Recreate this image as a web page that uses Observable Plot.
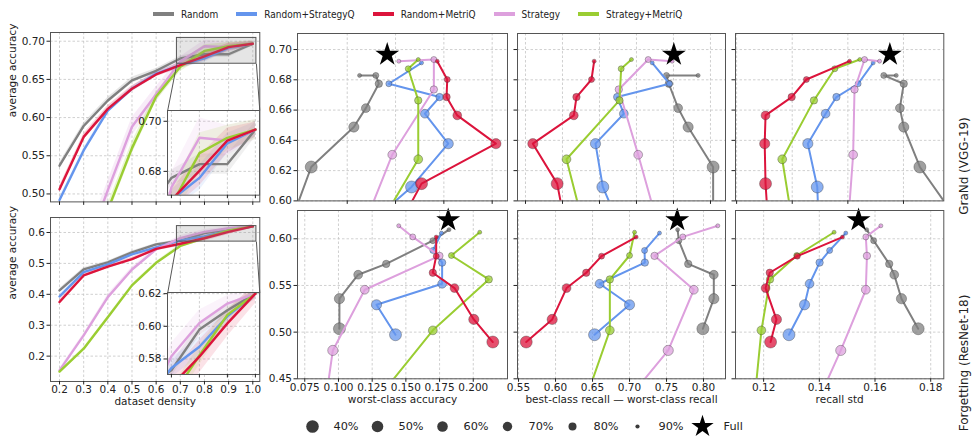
<!DOCTYPE html>
<html><head><meta charset="utf-8">
<script src="https://cdn.jsdelivr.net/npm/d3@7"></script>
<script src="https://cdn.jsdelivr.net/npm/@observablehq/plot@0.6"></script>
<style>
body{margin:0;background:#fff;}
#chart{position:relative;width:977px;height:437px;overflow:hidden;background:#fff;font-family:"DejaVu Sans",sans-serif;}
#chart svg{overflow:visible;}
#legendTop{position:absolute;left:153px;top:6px;height:16px;display:flex;align-items:center;white-space:nowrap;
  font-family:"DejaVu Sans Condensed","DejaVu Sans",sans-serif;font-size:10px;color:#222;}
#legendTop .item{display:flex;align-items:center;margin-right:18px;}
#legendTop .sw{width:21px;height:4px;margin-right:7px;}
</style></head>
<body><div id="chart"><div id="legendTop"></div></div>
<script>
// ---------------- data ----------------
const seriesNames = ["Random", "Random+StrategyQ", "Random+MetriQ", "Strategy", "Strategy+MetriQ"];
const seriesColors = ["#808080", "#6495ED", "#DC143C", "#DDA0DD", "#9ACD32"];
const drawOrder = [0, 1, 3, 4, 2];

const densities = [0.2, 0.3, 0.4, 0.5, 0.6, 0.7, 0.8, 0.9, 1.0];
const subsetDensities = [0.3, 0.4, 0.5, 0.6, 0.7, 0.8, 0.9];

// average accuracy vs dataset density — GraNd (VGG-19)
const grandAccRandom         = [0.537, 0.589, 0.6224, 0.6488, 0.6613, 0.6774, 0.6829, 0.6829, 0.6967];
const grandAccStrategyQ      = [0.492, 0.557, 0.6092, 0.6378, 0.6576, 0.6686, 0.6774, 0.6912, 0.6967];
const grandAccMetriQ         = [0.506, 0.5747, 0.6114, 0.6378, 0.6565, 0.6686, 0.6802, 0.6923, 0.6967];
const grandAccStrategy       = [0.33, 0.42, 0.505, 0.588, 0.6305, 0.6736, 0.6934, 0.6923, 0.6967];
const grandAccStrategyMetriQ = [0.32, 0.40, 0.479, 0.56, 0.6275, 0.6664, 0.6873, 0.6934, 0.6967];
const grandStdRandom         = [0.004, 0.004, 0.004, 0.004, 0.003, 0.003, 0.004, 0.004, 0.003];
const grandStdStrategyQ      = [0.003, 0.003, 0.003, 0.003, 0.003, 0.004, 0.005, 0.004, 0.003];
const grandStdMetriQ         = [0.004, 0.004, 0.004, 0.004, 0.003, 0.004, 0.006, 0.005, 0.003];
const grandStdStrategy       = [0.010, 0.012, 0.012, 0.012, 0.010, 0.006, 0.008, 0.006, 0.004];
const grandStdStrategyMetriQ = [0.008, 0.008, 0.008, 0.008, 0.006, 0.006, 0.008, 0.005, 0.004];

// average accuracy vs dataset density — Forgetting (ResNet-18)
const forgAccRandom         = [0.4126, 0.4806, 0.5036, 0.5358, 0.5615, 0.5731, 0.598, 0.6098, 0.620];
const forgAccStrategyQ      = [0.393, 0.472, 0.4972, 0.5293, 0.5518, 0.5745, 0.5875, 0.6061, 0.620];
const forgAccMetriQ         = [0.375, 0.461, 0.4894, 0.5136, 0.5472, 0.5636, 0.5814, 0.6018, 0.620];
const forgAccStrategy       = [0.154, 0.267, 0.391, 0.4804, 0.5454, 0.5817, 0.602, 0.6139, 0.620];
const forgAccStrategyMetriQ = [0.150, 0.224, 0.326, 0.429, 0.5019, 0.5565, 0.5821, 0.607, 0.620];
const forgStdRandom         = [0.006, 0.005, 0.004, 0.004, 0.004, 0.004, 0.004, 0.003, 0.003];
const forgStdStrategyQ      = [0.006, 0.005, 0.004, 0.004, 0.004, 0.006, 0.006, 0.004, 0.003];
const forgStdMetriQ         = [0.008, 0.006, 0.006, 0.006, 0.006, 0.008, 0.010, 0.008, 0.006];
const forgStdStrategy       = [0.006, 0.006, 0.008, 0.008, 0.006, 0.008, 0.008, 0.005, 0.004];
const forgStdStrategyMetriQ = [0.004, 0.004, 0.004, 0.004, 0.004, 0.006, 0.006, 0.004, 0.003];

// fairness metrics at densities 30%..90% — GraNd (VGG-19)
const grandWorstRandom         = [0.0871, 0.1255, 0.2137, 0.2385, 0.2654, 0.2592, 0.2255];
const grandWorstStrategyQ      = [0.145, 0.3331, 0.4091, 0.3607, 0.3911, 0.2861, 0.3538];
const grandWorstMetriQ         = [0.2919, 0.3538, 0.5077, 0.4277, 0.4056, 0.4070, 0.3863];
const grandWorstStrategy       = [null, null, 0.2401, 0.2932, 0.3793, 0.3793, 0.3068];
const grandWorstStrategyMetriQ = [null, null, 0.223, 0.347, 0.347, 0.3263, 0.347];

const grandGapRandom         = [0.6536, 0.6536, 0.6198, 0.6063, 0.5937, 0.5905, 0.6333];
const grandGapStrategyQ      = [0.5505, 0.5045, 0.4946, 0.5329, 0.5239, 0.5946, 0.5712];
const grandGapMetriQ         = [0.4573, 0.4428, 0.4099, 0.4653, 0.4689, 0.4892, 0.4928];
const grandGapStrategy       = [null, null, 0.5767, 0.5523, 0.5261, 0.5658, 0.5982];
const grandGapStrategyMetriQ = [null, null, 0.4908, 0.4554, 0.5270, 0.5293, 0.5432];

const grandRstdRandom         = [0.1787, 0.1659, 0.1601, 0.1587, 0.1601, 0.1529, 0.1574];
const grandRstdStrategyQ      = [0.1301, 0.1290, 0.1256, 0.1320, 0.1359, 0.1437, 0.1491];
const grandRstdMetriQ         = [0.1117, 0.1104, 0.1101, 0.1104, 0.1198, 0.1251, 0.1406];
const grandRstdStrategy       = [null, null, 0.1402, 0.1419, 0.1424, 0.1460, 0.1514];
const grandRstdStrategyMetriQ = [null, null, 0.1223, 0.1164, 0.1278, 0.1353, 0.1443];

// fairness metrics at densities 30%..90% — Forgetting (ResNet-18)
const forgWorstRandom         = [null, 0.1007, 0.1007, 0.1146, 0.1354, 0.1700, 0.182];
const forgWorstStrategyQ      = [null, 0.1423, 0.1282, 0.1769, 0.1769, 0.1700, 0.1764];
const forgWorstMetriQ         = [null, 0.2145, 0.2004, 0.1861, 0.1700, 0.1725, 0.1725];
const forgWorstStrategy       = [null, 0.0870, 0.0958, 0.1195, 0.1749, 0.1551, 0.1447];
const forgWorstStrategyMetriQ = [null, null, 0.1293, 0.1700, 0.2115, 0.1838, 0.2048];

const forgGapRandom         = [null, 0.7991, 0.8139, 0.8139, 0.7793, 0.7666, 0.765];
const forgGapStrategyQ      = [null, 0.6527, 0.70, 0.6595, 0.7207, 0.7203, 0.7405];
const forgGapMetriQ         = [null, 0.5604, 0.5955, 0.6149, 0.6415, 0.6622, 0.709];
const forgGapStrategy       = [null, 0.6594, 0.7523, 0.7869, 0.7338, 0.772, 0.8193];
const forgGapStrategyMetriQ = [null, null, 0.6412, 0.6734, 0.6734, 0.70, 0.7068];

const forgRstdRandom         = [null, 0.1755, 0.1695, 0.1669, 0.1651, 0.1595, 0.157];
const forgRstdStrategyQ      = [null, 0.1291, 0.1347, 0.1365, 0.1401, 0.1437, 0.1495];
const forgRstdMetriQ         = [null, 0.1225, 0.1246, 0.1207, 0.1222, 0.1321, 0.1483];
const forgRstdStrategy       = [null, 0.1342, 0.1477, 0.1567, 0.1571, 0.1567, 0.1621];
const forgRstdStrategyMetriQ = [null, null, 0.1168, 0.1192, 0.1223, 0.1319, 0.1453];

// full-dataset (star) metric values: [worst-class, gap, recall std]
const grandFullX = [0.2828, 0.6005, 0.1551];
const forgFullX  = [0.1814, 0.7645, 0.1541];

// ticks
const densityTicks = [0.2, 0.3, 0.4, 0.5, 0.6, 0.7, 0.8, 0.9, 1.0];
const insetDensityTicks = [0.7, 0.8, 0.9, 1.0];
const grandAccTicks = [0.50, 0.55, 0.60, 0.65, 0.70];
const forgAccTicks = [0.2, 0.3, 0.4, 0.5, 0.6];
const grandInsetTicks = [0.68, 0.70];
const forgInsetTicks = [0.58, 0.60, 0.62];
const grandScatterYTicks = [0.60, 0.62, 0.64, 0.66, 0.68, 0.70];
const forgScatterYTicks = [0.45, 0.50, 0.55, 0.60];
const grandWorstTicks = [0.2, 0.3, 0.4, 0.5];
const grandGapTicks = [0.40, 0.45, 0.50, 0.55, 0.60, 0.65];
const grandRstdTicks = [0.10, 0.12, 0.14, 0.16];
const forgWorstTicks = [0.075, 0.100, 0.125, 0.150, 0.175, 0.200];
const forgGapTicks = [0.55, 0.60, 0.65, 0.70, 0.75, 0.80];
const forgRstdTicks = [0.12, 0.14, 0.16, 0.18];

const sizeLabels = ["40%", "50%", "60%", "70%", "80%", "90%", "Full"];

// ---------------- styles ----------------
const markerRadius = [6.8, 6.0, 5.1, 4.4, 3.7, 3.0, 2.0];   // 30%..90%
const legendRadius = [6.3, 5.8, 5.3, 4.7, 4.0, 2.1];
const GRID = "#c4c4c4", FRAME = "#555", TXT = "#222";
const FONT = `"DejaVu Sans", sans-serif`;
const chart = document.getElementById("chart");

const grandAcc = [grandAccRandom, grandAccStrategyQ, grandAccMetriQ, grandAccStrategy, grandAccStrategyMetriQ];
const grandStd = [grandStdRandom, grandStdStrategyQ, grandStdMetriQ, grandStdStrategy, grandStdStrategyMetriQ];
const forgAcc = [forgAccRandom, forgAccStrategyQ, forgAccMetriQ, forgAccStrategy, forgAccStrategyMetriQ];
const forgStd = [forgStdRandom, forgStdStrategyQ, forgStdMetriQ, forgStdStrategy, forgStdStrategyMetriQ];

// top legend (HTML)
const lt = document.getElementById("legendTop");
seriesNames.forEach((n, i) => {
  const it = document.createElement("div"); it.className = "item";
  const sw = document.createElement("div"); sw.className = "sw"; sw.style.background = seriesColors[i];
  const tx = document.createElement("span"); tx.textContent = n;
  it.appendChild(sw); it.appendChild(tx); lt.appendChild(it);
});

function makePlot(box, m, opts) {
  const [x0, y0, x1, y1] = box;
  const p = Plot.plot({
    width: (x1 - x0) + m[3] + m[1], height: (y1 - y0) + m[0] + m[2],
    marginTop: m[0], marginRight: m[1], marginBottom: m[2], marginLeft: m[3],
    style: {background: "transparent", fontFamily: FONT, fontSize: "10.5px", color: TXT, overflow: "visible"},
    ...opts
  });
  p.style.position = "absolute";
  p.style.left = (x0 - m[3]) + "px";
  p.style.top = (y0 - m[0]) + "px";
  chart.appendChild(p);
  return p;
}

const grid = (ticks, dir) => (dir === "x" ? Plot.gridX : Plot.gridY)(ticks, {stroke: GRID, strokeOpacity: 1, strokeDasharray: "2.5,2", strokeWidth: 0.8});

function curveMarks(acc, std, lw, bandOpacity) {
  const marks = [];
  for (const i of drawOrder) {
    const rows = densities.map((d, k) => ({d, y: acc[i][k], lo: acc[i][k] - std[i][k], hi: acc[i][k] + std[i][k]}));
    marks.push(Plot.areaY(rows, {x: "d", y1: "lo", y2: "hi", fill: seriesColors[i], fillOpacity: bandOpacity, clip: true}));
  }
  for (const i of drawOrder) {
    const rows = densities.map((d, k) => ({d, y: acc[i][k]}));
    marks.push(Plot.line(rows, {x: "d", y: "y", stroke: seriesColors[i], strokeWidth: lw, clip: true}));
  }
  return marks;
}

const INSET = [0.56, 0.04, 0.44, 0.5]; // axes-fraction bounds [x, y, w, h]

function densityPanel(box, cfg) {
  const [fx0, fy0, fx1, fy1] = box;
  const W = fx1 - fx0, H = fy1 - fy0;
  const [xd0, xd1] = cfg.xDomain, [yd0, yd1] = cfg.yDomain;
  const ixL = xd0 + INSET[0] * (xd1 - xd0), ixR = xd0 + (INSET[0] + INSET[2]) * (xd1 - xd0);
  const iyT = yd0 + (INSET[1] + INSET[3]) * (yd1 - yd0);
  const zoom = [{x1: cfg.insetX[0], x2: cfg.insetX[1], y1: cfg.insetY[0], y2: cfg.insetY[1]}];
  const links = [
    {x1: cfg.insetX[0], y1: cfg.insetY[0], x2: ixL, y2: iyT},
    {x1: cfg.insetX[1], y1: cfg.insetY[0], x2: ixR, y2: iyT}
  ];
  const marks = [
    grid(densityTicks, "x"), grid(cfg.yTicks, "y"),
    ...curveMarks(cfg.acc, cfg.std, 2.4, 0.2),
    Plot.rect(zoom, {x1: "x1", x2: "x2", y1: "y1", y2: "y2", fill: "#8a8a8a", fillOpacity: 0.22, stroke: "#555", strokeWidth: 1}),
    Plot.link(links, {x1: "x1", y1: "y1", x2: "x2", y2: "y2", stroke: "#555", strokeWidth: 1}),
    Plot.frame({stroke: FRAME}),
    Plot.axisX(densityTicks, {tickSize: 3.5, tickPadding: 1, label: null, tickFormat: cfg.xLabels ? d3.format(".1f") : () => ""}),
    Plot.axisY(cfg.yTicks, {tickSize: 3.5, tickPadding: 2, label: null, tickFormat: d3.format(cfg.yFmt)}),
    Plot.text(["average accuracy"], {text: d => d, frameAnchor: "left", dx: -38, rotate: -90, fontSize: 10.5})
  ];
  if (cfg.xLabels) marks.push(Plot.text(["dataset density"], {text: d => d, frameAnchor: "bottom", dy: 23.5, fontSize: 10.5}));
  makePlot(box, [0, 0, 0, 0], {x: {domain: cfg.xDomain}, y: {domain: cfg.yDomain}, marks});

  // inset
  const ibox = [fx0 + INSET[0] * W, fy1 - (INSET[1] + INSET[3]) * H, fx0 + (INSET[0] + INSET[2]) * W, fy1 - INSET[1] * H];
  const imarks = [
    Plot.frame({fill: "white", stroke: null}),
    grid(insetDensityTicks, "x"), grid(cfg.insetTicks, "y"),
    ...curveMarks(cfg.acc, cfg.std, 2.4, 0.12),
    Plot.frame({stroke: FRAME}),
    Plot.axisX(insetDensityTicks, {tickSize: 3.5, label: null, tickFormat: () => ""}),
    Plot.axisY(cfg.insetTicks, {tickSize: 3.5, tickPadding: 2.5, label: null, tickFormat: d3.format(".2f")})
  ];
  makePlot(ibox, [0, 0, 0, 0], {x: {domain: cfg.insetX}, y: {domain: cfg.insetY}, marks: imarks});
}

densityPanel([50, 32.3, 259.3, 201.7], {
  acc: grandAcc, std: grandStd, xDomain: [0.1627, 1.029], yDomain: [0.4896, 0.7114],
  yTicks: grandAccTicks, yFmt: ".2f", xLabels: false,
  insetX: [0.686, 1.015], insetY: [0.6705, 0.7043], insetTicks: grandInsetTicks
});
densityPanel([50, 216.7, 259.3, 380.7], {
  acc: forgAcc, std: forgStd, xDomain: [0.1627, 1.029], yDomain: [0.118, 0.6485],
  yTicks: forgAccTicks, yFmt: ".1f", xLabels: true,
  insetX: [0.686, 1.015], insetY: [0.5705, 0.6207], insetTicks: forgInsetTicks
});

function scatterPanel(box, cfg) {
  const marks = [grid(cfg.xTicks, "x"), grid(cfg.yTicks, "y")];
  for (const i of drawOrder) {
    const rows = subsetDensities.map((d, k) => ({d, x: cfg.xs[i][k], y: cfg.acc[i][densities.indexOf(d)], r: markerRadius[k]}))
      .filter(p => p.x != null);
    marks.push(Plot.line(rows, {x: "x", y: "y", stroke: seriesColors[i], strokeWidth: 2, clip: true}));
    marks.push(Plot.dot(rows, {x: "x", y: "y", r: "r", fill: seriesColors[i], fillOpacity: 0.75,
      stroke: "#333", strokeOpacity: 0.45, strokeWidth: 0.8, clip: true}));
  }
  marks.push(Plot.dot([{x: cfg.full, y: cfg.acc[0][densities.length - 1]}], {x: "x", y: "y", symbol: "star", r: 7.5, fill: "black", stroke: null}));
  marks.push(Plot.frame({stroke: FRAME}));
  marks.push(Plot.axisX(cfg.xTicks, {tickSize: 3.5, tickPadding: 1, label: null, tickFormat: cfg.xFmt ? d3.format(cfg.xFmt) : () => ""}));
  marks.push(Plot.axisY(cfg.yTicks, {tickSize: 3.5, tickPadding: 2, label: null, tickFormat: cfg.yLabels ? d3.format(".2f") : () => ""}));
  if (cfg.xLabel) marks.push(Plot.text([cfg.xLabel], {text: d => d, frameAnchor: "bottom", dy: 24.5, fontSize: 10.5}));
  if (cfg.rowLabel) marks.push(Plot.text([cfg.rowLabel], {text: d => d, frameAnchor: "right", dx: 20, rotate: -90, fontSize: 12}));
  makePlot(box, [0, 0, 0, 0], {x: {domain: cfg.xDomain}, y: {domain: cfg.yDomain}, r: {type: "identity"}, marks});
}

const cols = [[297, 507], [517, 725], [735, 943.3]];
const topY = [33.3, 200.7], botY = [210, 378.3];

scatterPanel([cols[0][0], topY[0], cols[0][1], topY[1]], {
  acc: grandAcc, xs: [grandWorstRandom, grandWorstStrategyQ, grandWorstMetriQ, grandWorstStrategy, grandWorstStrategyMetriQ],
  xDomain: [0.0971, 0.5317], yDomain: [0.60, 0.7106], xTicks: grandWorstTicks, yTicks: grandScatterYTicks,
  yLabels: true, full: grandFullX[0]
});
scatterPanel([cols[1][0], topY[0], cols[1][1], topY[1]], {
  acc: grandAcc, xs: [grandGapRandom, grandGapStrategyQ, grandGapMetriQ, grandGapStrategy, grandGapStrategyMetriQ],
  xDomain: [0.3892, 0.6703], yDomain: [0.60, 0.7106], xTicks: grandGapTicks, yTicks: grandScatterYTicks,
  full: grandFullX[1]
});
scatterPanel([cols[2][0], topY[0], cols[2][1], topY[1]], {
  acc: grandAcc, xs: [grandRstdRandom, grandRstdStrategyQ, grandRstdMetriQ, grandRstdStrategy, grandRstdStrategyMetriQ],
  xDomain: [0.0996, 0.1745], yDomain: [0.60, 0.7106], xTicks: grandRstdTicks, yTicks: grandScatterYTicks,
  full: grandFullX[2], rowLabel: "GraNd (VGG-19)"
});
scatterPanel([cols[0][0], botY[0], cols[0][1], botY[1]], {
  acc: forgAcc, xs: [forgWorstRandom, forgWorstStrategyQ, forgWorstMetriQ, forgWorstStrategy, forgWorstStrategyMetriQ],
  xDomain: [0.0696, 0.2254], yDomain: [0.45, 0.6303], xTicks: forgWorstTicks, yTicks: forgScatterYTicks,
  yLabels: true, xFmt: ".3f", xLabel: "worst-class accuracy", full: forgFullX[0]
});
scatterPanel([cols[1][0], botY[0], cols[1][1], botY[1]], {
  acc: forgAcc, xs: [forgGapRandom, forgGapStrategyQ, forgGapMetriQ, forgGapStrategy, forgGapStrategyMetriQ],
  xDomain: [0.5486, 0.8297], yDomain: [0.45, 0.6303], xTicks: forgGapTicks, yTicks: forgScatterYTicks,
  xFmt: ".2f", xLabel: "best-class recall — worst-class recall", full: forgFullX[1]
});
scatterPanel([cols[2][0], botY[0], cols[2][1], botY[1]], {
  acc: forgAcc, xs: [forgRstdRandom, forgRstdStrategyQ, forgRstdMetriQ, forgRstdStrategy, forgRstdStrategyMetriQ],
  xDomain: [0.1099, 0.1847], yDomain: [0.45, 0.6303], xTicks: forgRstdTicks, yTicks: forgScatterYTicks,
  xFmt: ".2f", xLabel: "recall std", full: forgFullX[2], rowLabel: "Forgetting (ResNet-18)"
});

// bottom size legend
{
  const dots = sizeLabels.slice(0, 6).map((l, i) => ({l, r: legendRadius[i]}));
  const p = Plot.plot({
    width: 460, height: 24, marginLeft: 10, marginRight: 59, marginTop: 0, marginBottom: 0,
    style: {background: "transparent", fontFamily: FONT, overflow: "visible"},
    x: {type: "point", domain: sizeLabels, padding: 0, axis: null}, r: {type: "identity"},
    marks: [
      Plot.dot(dots, {x: "l", r: "r", fill: "#3a3a3a", stroke: null}),
      Plot.dot(["Full"], {x: d => d, symbol: "star", r: 7, fill: "black", stroke: null}),
      Plot.text(sizeLabels, {x: d => d, text: d => d, dx: 21, textAnchor: "start", fontSize: 11.3, fill: TXT})
    ]
  });
  p.style.position = "absolute"; p.style.left = "301px"; p.style.top = "414px";
  chart.appendChild(p);
}
</script>
</body></html>
